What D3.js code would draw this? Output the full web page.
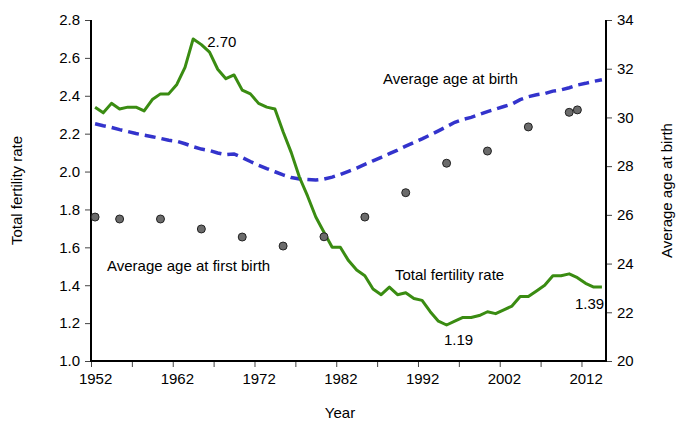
<!DOCTYPE html>
<html>
<head>
<meta charset="utf-8">
<script src="https://cdn.jsdelivr.net/npm/d3@7"></script>
<style>
  body { margin: 0; background: #fff; }
  svg { display: block; font-family: "Liberation Sans", Arial, sans-serif; }
</style>
</head>
<body>
<svg id="chart" width="678" height="423"></svg>
<script>
// yearly series, 1952..2014
const years = d3.range(1952, 2015);

const fertility = [
  2.34, 2.31, 2.36, 2.33, 2.34, 2.34, 2.32, 2.38, 2.41, 2.41,
  2.46, 2.55, 2.70, 2.67, 2.63, 2.54, 2.49, 2.51, 2.43, 2.41,
  2.36, 2.34, 2.33, 2.21, 2.10, 1.97, 1.87, 1.76, 1.68, 1.60,
  1.60, 1.53, 1.48, 1.45, 1.38, 1.35, 1.39, 1.35, 1.36, 1.33,
  1.32, 1.26, 1.21, 1.19, 1.21, 1.23, 1.23, 1.24, 1.26, 1.25,
  1.27, 1.29, 1.34, 1.34, 1.37, 1.40, 1.45, 1.45, 1.46, 1.44,
  1.41, 1.39, 1.39
];

const ageAtBirth = [
  29.74, 29.66, 29.59, 29.50, 29.42, 29.34, 29.27, 29.21, 29.14, 29.06,
  29.02, 28.92, 28.80, 28.70, 28.64, 28.54, 28.47, 28.50, 28.35, 28.19,
  28.04, 27.90, 27.77, 27.64, 27.53, 27.47, 27.45, 27.43, 27.47, 27.55,
  27.66, 27.79, 27.92, 28.07, 28.22, 28.36, 28.51, 28.66, 28.82, 28.97,
  29.12, 29.28, 29.45, 29.62, 29.80, 29.92, 30.00, 30.12, 30.24, 30.34,
  30.45, 30.55, 30.73, 30.85, 30.93, 30.98, 31.08, 31.13, 31.22, 31.33,
  31.40, 31.48, 31.55
];

const firstBirthYears = [1952, 1955, 1960, 1965, 1970, 1975, 1980, 1985, 1990, 1995, 2000, 2005, 2010, 2011];
const ageAtFirstBirth = [25.91, 25.83, 25.83, 25.42, 25.09, 24.72, 25.10, 25.91, 26.91, 28.12, 28.62, 29.61, 30.21, 30.31];

const xTicks = d3.range(1952, 2016, 5);
const leftTicks = [1.0, 1.2, 1.4, 1.6, 1.8, 2.0, 2.2, 2.4, 2.6, 2.8];
const rightTicks = [20, 22, 24, 26, 28, 30, 32, 34];

const svg = d3.select("#chart");
const plotLeft = 91, plotRight = 606, plotTop = 20, plotBottom = 361;

const x = d3.scaleLinear().domain([1952, 2015]).range([plotLeft, plotRight]);
const yL = d3.scaleLinear().domain([1.0, 2.8]).range([plotBottom, plotTop]);
const yR = d3.scaleLinear().domain([20, 34]).range([plotBottom, plotTop]);

// points (and year labels) sit in the middle of each year
const px = yr => x(yr + 0.5);
const halfYear = x(1952.5) - x(1952);

const fontSize = "15px";

// axes
const xAxis = d3.axisBottom(x)
  .tickValues(xTicks)
  .tickSize(6)
  .tickFormat(d => (d - 1952) % 10 === 0 ? d : "");
const lAxis = d3.axisLeft(yL).tickValues(leftTicks).tickSize(6).tickFormat(d3.format(".1f"));
const rAxis = d3.axisRight(yR).tickValues(rightTicks).tickSize(6);

function styleAxis(g) {
  g.select(".domain").remove();
  g.selectAll(".tick line").attr("stroke", "#444").attr("stroke-width", 1);
  g.selectAll(".tick text").attr("fill", "#000").style("font-size", fontSize)
    .style("font-family", "Liberation Sans, Arial, sans-serif");
}

svg.append("g").attr("transform", `translate(0,${plotBottom})`).call(xAxis).call(styleAxis)
  .selectAll(".tick text").attr("dy", "0.95em").attr("x", halfYear);
svg.append("g").attr("transform", `translate(${plotLeft},0)`).call(lAxis).call(styleAxis)
  .selectAll(".tick text").attr("x", -11);
svg.append("g").attr("transform", `translate(${plotRight},0)`).call(rAxis).call(styleAxis)
  .selectAll(".tick text").attr("x", 11);

// axis lines
svg.append("line").attr("x1", plotLeft).attr("x2", plotLeft).attr("y1", plotTop).attr("y2", plotBottom + 1)
  .attr("stroke", "#000").attr("stroke-width", 2);
svg.append("line").attr("x1", plotRight).attr("x2", plotRight).attr("y1", plotTop).attr("y2", plotBottom + 1)
  .attr("stroke", "#000").attr("stroke-width", 2);
svg.append("line").attr("x1", plotLeft).attr("x2", plotRight).attr("y1", plotBottom).attr("y2", plotBottom)
  .attr("stroke", "#000").attr("stroke-width", 2);

// axis titles
svg.append("text").attr("x", 340).attr("y", 418).attr("text-anchor", "middle")
  .style("font-size", fontSize).text("Year");
svg.append("text").attr("transform", `translate(22,${(plotTop + plotBottom) / 2}) rotate(-90)`)
  .attr("text-anchor", "middle").style("font-size", fontSize).text("Total fertility rate");
svg.append("text").attr("transform", `translate(672,${(plotTop + plotBottom) / 2}) rotate(-90)`)
  .attr("text-anchor", "middle").style("font-size", fontSize).text("Average age at birth");

// average age at birth (dashed blue)
svg.append("path")
  .datum(years.map((yr, i) => [yr, ageAtBirth[i]]))
  .attr("fill", "none")
  .attr("stroke", "#3333cc")
  .attr("stroke-width", 3.5)
  .attr("stroke-dasharray", "11,6")
  .attr("d", d3.line().x(d => px(d[0])).y(d => yR(d[1])));

// total fertility rate (green)
svg.append("path")
  .datum(years.map((yr, i) => [yr, fertility[i]]))
  .attr("fill", "none")
  .attr("stroke", "#3a8c12")
  .attr("stroke-width", 3)
  .attr("stroke-linejoin", "round")
  .attr("d", d3.line().x(d => px(d[0])).y(d => yL(d[1])));

// average age at first birth (dots)
svg.selectAll("circle.first")
  .data(firstBirthYears.map((yr, i) => [yr, ageAtFirstBirth[i]]))
  .enter()
  .append("circle")
  .attr("class", "first")
  .attr("cx", d => px(d[0]))
  .attr("cy", d => yR(d[1]))
  .attr("r", 4)
  .attr("fill", "#6b6b6b")
  .attr("stroke", "#222")
  .attr("stroke-width", 1);

// annotations
const peakIdx = years.indexOf(1964);
const lowIdx = years.indexOf(1995);
const lastIdx = years.length - 1;
svg.append("text").attr("x", px(1964) + 14).attr("y", yL(fertility[peakIdx]) + 8)
  .style("font-size", fontSize).text("2.70");
svg.append("text").attr("x", px(1995) + 12).attr("y", yL(fertility[lowIdx]) + 20)
  .attr("text-anchor", "middle").style("font-size", fontSize).text("1.19");
svg.append("text").attr("x", px(2014) - 27).attr("y", yL(fertility[lastIdx]) + 22)
  .style("font-size", fontSize).text("1.39");

svg.append("text").attr("x", 383).attr("y", 84).style("font-size", fontSize).text("Average age at birth");
svg.append("text").attr("x", 107).attr("y", 271).style("font-size", fontSize).text("Average age at first birth");
svg.append("text").attr("x", 395).attr("y", 280).style("font-size", fontSize).text("Total fertility rate");
</script>
</body>
</html>
